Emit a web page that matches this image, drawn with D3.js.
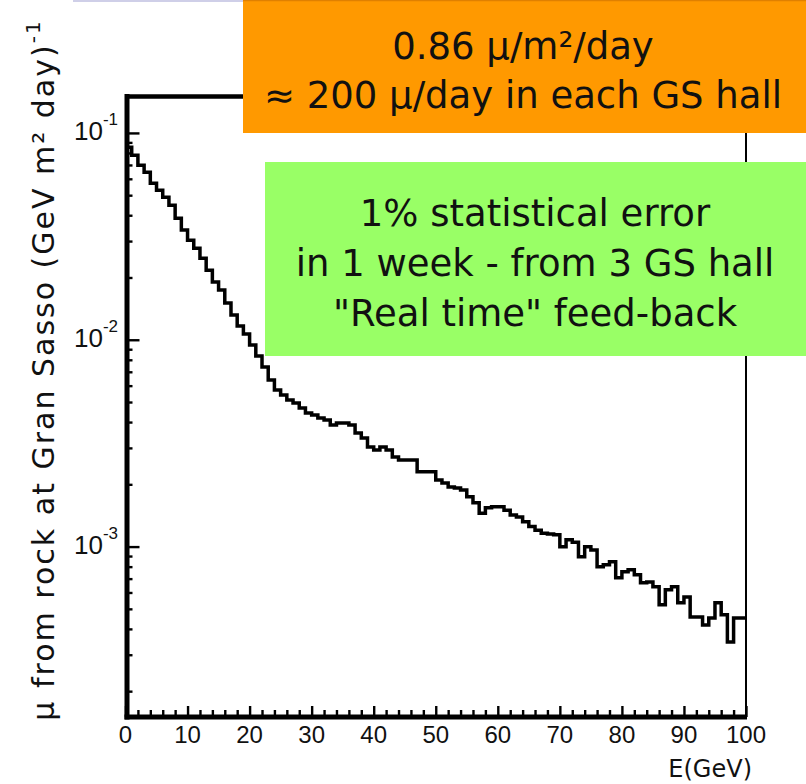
<!DOCTYPE html>
<html>
<head>
<meta charset="utf-8">
<script src="https://cdn.jsdelivr.net/npm/d3@7"></script>
<style>
  html, body { margin: 0; padding: 0; background: #ffffff; }
  svg { display: block; }
</style>
</head>
<body>
<svg id="chart" width="806" height="784"></svg>
<script>
// ---------------- DATA ----------------
// Lower edge of each 1 GeV energy bin (GeV)
const binStart = [
  0,1,2,3,4,5,6,7,8,9,10,11,12,13,14,15,16,17,18,19,
  20,21,22,23,24,25,26,27,28,29,30,31,32,33,34,35,36,37,38,39,
  40,41,42,43,44,45,46,47,48,49,50,51,52,53,54,55,56,57,58,59,
  60,61,62,63,64,65,66,67,68,69,70,71,72,73,74,75,76,77,78,79,
  80,81,82,83,84,85,86,87,88,89,90,91,92,93,94,95,96,97,98,99
];
const binWidth = 1;
// Muon flux from rock at Gran Sasso, (GeV m^2 day)^-1
const muonFlux = [
  0.0853,0.0780,0.0698,0.0646,0.0571,0.0528,0.0489,0.0447,0.0387,0.0339,
  0.0303,0.0277,0.0248,0.0217,0.0190,0.01738,0.01504,0.01316,0.01165,0.01065,
  0.00943,0.00834,0.00738,0.00639,0.00571,0.00541,0.00511,0.00494,0.00468,0.00442,
  0.00433,0.00418,0.00409,0.00387,0.00396,0.00396,0.00387,0.00354,0.00335,0.00303,
  0.00293,0.00303,0.00293,0.00271,0.00262,0.00262,0.00262,0.00230,0.00230,0.00230,
  0.00210,0.00203,0.00194,0.00192,0.00188,0.00174,0.00163,0.00145,0.00154,0.00156,
  0.00156,0.00150,0.00142,0.00139,0.00132,0.00125,0.00120,0.00116,0.00115,0.00114,
  0.000997,0.00108,0.00105,0.000892,0.000997,0.000964,0.000798,0.000816,0.000844,0.000706,
  0.000755,0.000772,0.000730,0.000668,0.000675,0.000639,0.000523,0.000618,0.000639,0.000535,
  0.000571,0.000457,0.000457,0.000418,0.000452,0.000535,0.000468,0.000346,0.000452,0.000452
];
const xDomain = [0, 100];
const yDomain = [1.5e-4, 0.15];
const xMajorTicks = [0, 10, 20, 30, 40, 50, 60, 70, 80, 90, 100];
const xMinorTicks = [2,4,6,8,12,14,16,18,22,24,26,28,32,34,36,38,42,44,46,48,
                     52,54,56,58,62,64,66,68,72,74,76,78,82,84,86,88,92,94,96,98];
const yMajorTicks = [1e-3, 1e-2, 1e-1];
const yMajorExp = ["-3", "-2", "-1"];
const yMinorTicks = [2e-4,3e-4,4e-4,5e-4,6e-4,7e-4,8e-4,9e-4,
                     2e-3,3e-3,4e-3,5e-3,6e-3,7e-3,8e-3,9e-3,
                     2e-2,3e-2,4e-2,5e-2,6e-2,7e-2,8e-2,9e-2];
const xTitle = "E(GeV)";
const yTitle = "\u03bc from rock at Gran Sasso (GeV m\u00b2 day)";
const yTitleExp = "-1";
const orangeLines = ["0.86 \u03bc/m\u00b2/day", "\u2248 200 \u03bc/day in each GS hall"];
const greenLines = ["1% statistical error", "in 1 week - from 3 GS hall", "\"Real time\" feed-back"];

// ---------------- LAYOUT ----------------
const svg = d3.select("#chart");
const x = d3.scaleLinear().domain(xDomain).range([125.5, 746]);
const y = d3.scaleLog().domain(yDomain).range([717, 96.5]);
const FONT = "'DejaVu Sans', sans-serif";
const TICKFONT = "'Liberation Sans', Arial, sans-serif";

// faint slide line at top
svg.append("line").attr("x1", 73).attr("x2", 806).attr("y1", 1).attr("y2", 1)
  .attr("stroke", "#cfcfe8").attr("stroke-width", 2);

// histogram
const pts = [];
binStart.forEach((e, i) => {
  pts.push([x(e), y(muonFlux[i])]);
  pts.push([x(e + binWidth), y(muonFlux[i])]);
});
svg.append("path")
  .attr("d", d3.line()(pts))
  .attr("fill", "none").attr("stroke", "#000").attr("stroke-width", 3.5)
  .attr("stroke-linejoin", "miter");

// axes ticks (drawn inside the frame)
const yMinorAxis = d3.axisRight(y).tickValues(yMinorTicks).tickSize(7).tickFormat("");
const yMajorAxis = d3.axisRight(y).tickValues(yMajorTicks).tickSize(14).tickFormat("");
const xMinorAxis = d3.axisTop(x).tickValues(xMinorTicks).tickSize(7).tickFormat("");
const xMajorAxis = d3.axisTop(x).tickValues(xMajorTicks).tickSize(11).tickFormat("");
function styleAxis(g) {
  g.select(".domain").remove();
  g.selectAll(".tick line").attr("stroke", "#000").attr("stroke-width", 2.4);
}
svg.append("g").attr("transform", `translate(${x(0)},0)`).call(yMinorAxis).call(styleAxis);
svg.append("g").attr("transform", `translate(${x(0)},0)`).call(yMajorAxis).call(styleAxis);
svg.append("g").attr("transform", `translate(0,${y(yDomain[0])})`).call(xMinorAxis).call(styleAxis);
svg.append("g").attr("transform", `translate(0,${y(yDomain[0])})`).call(xMajorAxis).call(styleAxis);

// frame
const x0 = x(xDomain[0]), x1 = x(xDomain[1]);
const yb = y(yDomain[0]), yt = y(yDomain[1]);
svg.append("line").attr("x1", x0 + 1.5).attr("x2", x0 + 1.5).attr("y1", yt - 2.5).attr("y2", yb + 2.5)
  .attr("stroke", "#000").attr("stroke-width", 5);
svg.append("line").attr("x1", x0 - 1).attr("x2", x1 + 1).attr("y1", yb).attr("y2", yb)
  .attr("stroke", "#000").attr("stroke-width", 5);
svg.append("line").attr("x1", x0).attr("x2", x1).attr("y1", yt).attr("y2", yt)
  .attr("stroke", "#000").attr("stroke-width", 4.5);
svg.append("line").attr("x1", x1).attr("x2", x1).attr("y1", yt).attr("y2", yb)
  .attr("stroke", "#000").attr("stroke-width", 2);

// x tick labels
svg.append("g").selectAll("text").data(xMajorTicks).join("text")
  .attr("x", d => x(d)).attr("y", 743)
  .attr("text-anchor", "middle")
  .attr("font-family", TICKFONT).attr("font-size", 24).attr("fill", "#111")
  .text(d => String(d));

// y tick labels 10^n
const yl = svg.append("g").selectAll("text").data(yMajorTicks).join("text")
  .attr("x", 118).attr("y", d => y(d) + 7)
  .attr("text-anchor", "end")
  .attr("font-family", TICKFONT).attr("font-size", 26).attr("fill", "#111");
yl.append("tspan").text("10");
yl.append("tspan").attr("dy", -15).attr("font-size", 17).text((d, i) => yMajorExp[i]);

// x title
svg.append("text").attr("x", 752).attr("y", 777).attr("text-anchor", "end")
  .attr("font-family", FONT).attr("font-size", 24).attr("fill", "#111").text(xTitle);

// y title
const yt0 = svg.append("text")
  .attr("transform", "translate(54,370) rotate(-90)")
  .attr("text-anchor", "middle")
  .attr("font-family", FONT).attr("font-size", 30).attr("letter-spacing", 2)
  .attr("fill", "#111");
yt0.append("tspan").text(yTitle);
yt0.append("tspan").attr("dy", -14).attr("font-size", 20).text(yTitleExp);

// orange annotation box
svg.append("rect").attr("x", 243).attr("y", 0).attr("width", 563).attr("height", 133)
  .attr("fill", "#ff9900");
svg.append("line").attr("x1", 243).attr("x2", 806).attr("y1", 0.5).attr("y2", 0.5)
  .attr("stroke", "#e08000").attr("stroke-width", 1.5);
svg.append("g").selectAll("text").data(orangeLines).join("text")
  .attr("x", 523).attr("y", (d, i) => 59 + i * 49)
  .attr("text-anchor", "middle")
  .attr("font-family", FONT).attr("font-size", 37).attr("fill", "#111")
  .text(d => d);

// green annotation box
svg.append("rect").attr("x", 265).attr("y", 162).attr("width", 541).attr("height", 194)
  .attr("fill", "#99ff66");
svg.append("g").selectAll("text").data(greenLines).join("text")
  .attr("x", 535).attr("y", (d, i) => 226 + i * 50)
  .attr("text-anchor", "middle")
  .attr("font-family", FONT).attr("font-size", 37).attr("fill", "#111")
  .text(d => d);
</script>
</body>
</html>
